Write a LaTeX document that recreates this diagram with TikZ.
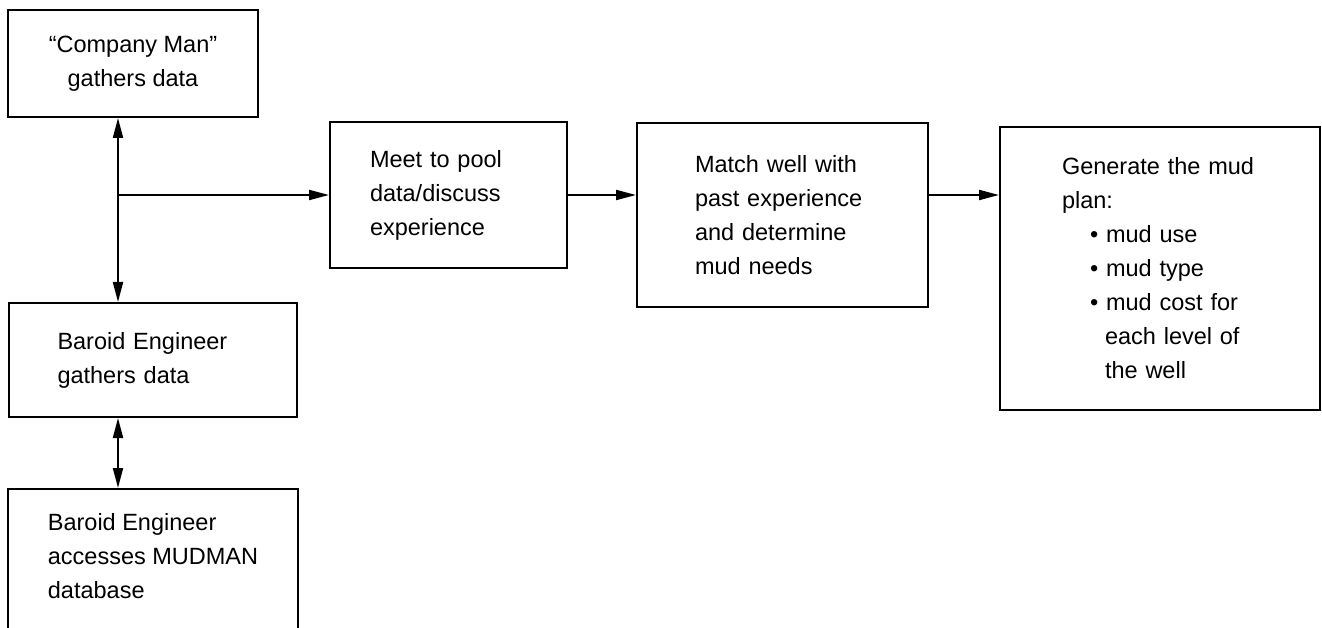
\documentclass[tikz,border=0pt]{standalone}
\usepackage{fontspec}
\setmainfont{Liberation Sans}
\usetikzlibrary{arrows.meta}

\newcommand{\mudfont}{\fontsize{23.5}{34}\selectfont}

\begin{document}
\begin{tikzpicture}[x=1pt,y=-1pt,line width=2pt,>={Triangle[length=20pt,width=10pt]}]
       \tikzstyle{stage}=[draw,rectangle,font=\mudfont,inner ysep=8pt,align=left]
       \clip (0,0) rectangle (1322,628);

       \node[stage, align=center, minimum width=250pt, minimum height=107pt]
              (company) at (133,63.5) {``Company Man''\\gathers data};
       \node[stage, inner xsep=49pt, text width=190pt, minimum height=114pt]
              (gather) at (152.5,360) {Baroid Engineer\\gathers data};
       \node[stage, minimum width=290pt, anchor=north,
              inner ysep=9pt, text height=100pt, text depth=150pt]
              (mudman) at (153,488) {Baroid Engineer\\accesses MUDMAN\\database};
       \node[stage, inner xsep=40pt, text width=157pt, minimum height=146pt]
              (meet) at (448.5,195) {Meet to pool\\data/discuss\\experience};
       \node[stage, inner xsep=58pt, text width=175pt, minimum height=184pt]
              (match) at (782.5,215) {Match well with\\past experience\\and determine\\mud needs};
       \node[stage, inner xsep=62pt, text width=196pt, minimum height=283pt]
              (plan) at (1160,268.5) {Generate the mud\\plan:\\
              \hspace*{28pt}• mud use\\\hspace*{28pt}• mud type\\\hspace*{28pt}• mud cost for\\
              \hspace*{43pt}each level of\\\hspace*{43pt}the well};

       \coordinate (split) at (118,195);

       \draw[<->] (company.south -| split) -- (gather.north -| split);
       \draw[<->] (gather.south -| split) -- (mudman.north -| split);
       \draw[->] (split) -- (meet.west);
       \draw[->] (meet.east) -- (meet.east -| match.west);
       \draw[->] (match.east |- meet.east) -- (plan.west |- meet.east);
     \end{tikzpicture}
\end{document}
